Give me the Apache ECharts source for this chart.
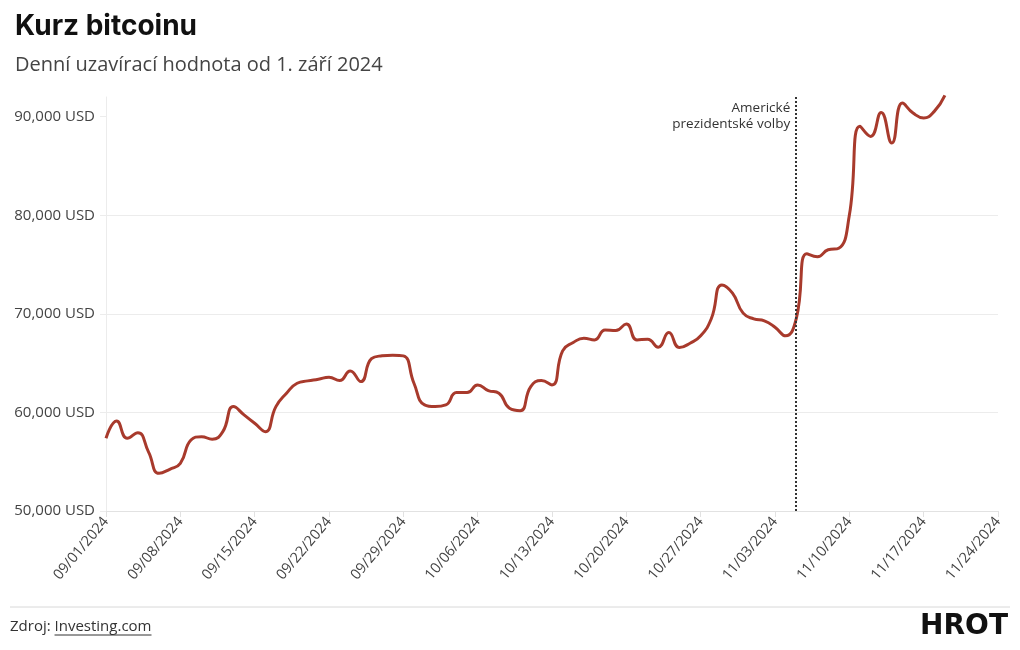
<!DOCTYPE html>
<html>
<head>
<meta charset="utf-8">
<script src="https://cdn.jsdelivr.net/npm/echarts@6/dist/echarts.min.js"></script>
<style>
  html, body { margin: 0; padding: 0; background: #fff; }
  #chart { width: 1020px; height: 650px; }
</style>
</head>
<body>
<div id="chart"></div>
<script>
// Daily closing value of bitcoin (USD), day 0 = 09/01/2024
const closeValues = [
  57380, 59140, 57380, 57950, 56000, 53820, 54230, 54840, 57200, 57540,
  57280, 58050, 60590, 59750, 58900, 58050, 60590, 61950, 62960, 63200,
  63370, 63570, 63230, 64210, 63130, 65450, 65740, 65800, 65740, 62960,
  60760, 60590, 60760, 62010, 62010, 62790, 62220, 61950, 60420, 60180,
  62620, 63230, 62790, 66250, 67090, 67530, 67360, 68370, 68300, 68980,
  67360, 67430, 66620, 68100, 66580, 67020, 67770, 69500, 72940, 72100,
  70070, 69490, 69290, 68650, 67770, 69500, 76100, 75800, 76500, 76650,
  80000, 89020, 88000, 90440, 87330, 91390, 90370, 89870, 90540, 92160
];
const xTickLabels = [
  '09/01/2024', '09/08/2024', '09/15/2024', '09/22/2024', '09/29/2024',
  '10/06/2024', '10/13/2024', '10/20/2024', '10/27/2024', '11/03/2024',
  '11/10/2024', '11/17/2024', '11/24/2024'
];
const yTicks = [50000, 60000, 70000, 80000, 90000];
const electionDayIndex = 65; // 11/05/2024
const electionLabel = 'Americké\nprezidentské volby';

const chart = echarts.init(document.getElementById('chart'));

const footFont = '15px "Open Sans", sans-serif';
const ctx = document.createElement('canvas').getContext('2d');
ctx.font = footFont;
const srcPrefix = 'Zdroj: ';
const prefixW = ctx.measureText(srcPrefix).width;
const linkW = ctx.measureText('Investing.com').width;

const labelFont = '"Open Sans", sans-serif';

chart.setOption({
  animation: false,
  title: [
    { text: 'Kurz bitcoinu', left: 10, top: 8,
      textStyle: { fontFamily: 'Inter, sans-serif', fontSize: 28, fontWeight: 'bold', color: '#111' } },
    { text: 'Denní uzavírací hodnota od 1. září 2024', left: 10, top: 50,
      textStyle: { fontFamily: '"Open Sans", sans-serif', fontSize: 20, fontWeight: 'normal', color: '#444' } }
  ],
  grid: { left: 106, right: 22, top: 97, bottom: 139 },
  xAxis: {
    type: 'value', min: 0, max: 84, interval: 7,
    axisLine: { show: true, lineStyle: { color: '#e2e2e2' } },
    axisTick: { show: true, length: 6, lineStyle: { color: '#e2e2e2' } },
    splitLine: { show: false },
    axisLabel: {
      rotate: 50, margin: 8, fontSize: 14.5, color: '#444', fontFamily: labelFont,
      formatter: v => xTickLabels[Math.round(v / 7)] || ''
    }
  },
  yAxis: {
    type: 'value', min: 50000, max: 92000, interval: 10000,
    axisLine: { show: true, lineStyle: { color: '#ececec' } },
    axisTick: { show: true, length: 6, customValues: yTicks, lineStyle: { color: '#ececec' } },
    splitLine: { show: true, showMaxLine: false, lineStyle: { color: '#ececec' } },
    axisLabel: {
      customValues: yTicks, margin: 11, fontSize: 15, color: '#444', fontFamily: labelFont,
      formatter: v => v.toLocaleString('en-US') + ' USD'
    }
  },
  series: [{
    type: 'line',
    data: closeValues.map((v, i) => [i, v]),
    smooth: 0.5,
    clip: false,
    showSymbol: false,
    lineStyle: { color: '#a83a2c', width: 3 },
    markLine: {
      silent: true, symbol: 'none',
      lineStyle: { type: [2, 2], color: '#333', width: 2 },
      label: { show: false },
      data: [{ xAxis: electionDayIndex }]
    },
    markPoint: {
      silent: true, symbol: 'circle', symbolSize: 0,
      label: {
        show: true, position: 'left', distance: 6, offset: [0, 19],
        align: 'right', fontSize: 13.5, lineHeight: 16, color: '#333', fontFamily: labelFont,
        formatter: electionLabel
      },
      data: [{ coord: [electionDayIndex, 92000] }]
    }
  }],
  graphic: [
    { type: 'line', shape: { x1: 10, y1: 607, x2: 1010, y2: 607 }, style: { stroke: '#d8d8d8', lineWidth: 1 } },
    { type: 'text', left: 10, top: 619,
      style: { text: srcPrefix + 'Investing.com', font: footFont, fill: '#333' } },
    { type: 'line', shape: { x1: 10 + prefixW, y1: 635, x2: 10 + prefixW + linkW, y2: 635 }, style: { stroke: '#333', lineWidth: 1 } },
    { type: 'text', right: 12, top: 613,
      style: { text: 'HROT', font: '900 28px "DejaVu Sans", sans-serif', fill: '#111' } }
  ]
});
</script>
</body>
</html>
